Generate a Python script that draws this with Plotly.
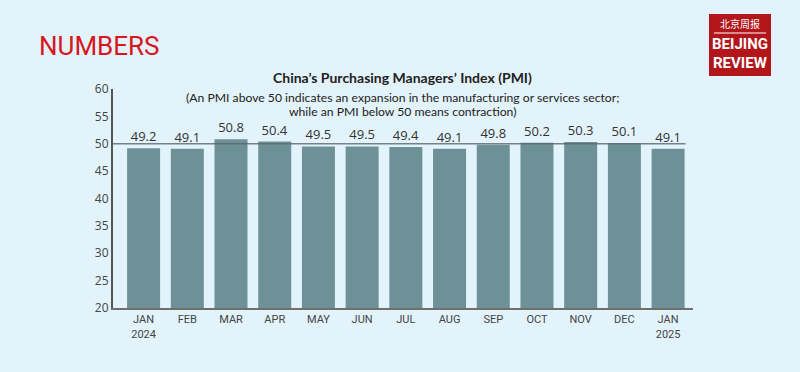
import plotly.graph_objects as go

months = ["JAN<br>2024", "FEB", "MAR", "APR", "MAY", "JUN", "JUL", "AUG", "SEP", "OCT", "NOV", "DEC", "JAN<br>2025"]
pmi = [49.2, 49.1, 50.8, 50.4, 49.5, 49.5, 49.4, 49.1, 49.8, 50.2, 50.3, 50.1, 49.1]
y_ticks = [20, 25, 30, 35, 40, 45, 50, 55, 60]
threshold = 50

W, H = 800, 372
L, R, T, B = 113, 107, 89, 64
BG = "#e2f3fb"

fig = go.Figure()
fig.add_trace(go.Bar(
    x=list(range(len(months))), y=pmi,
    marker=dict(color="#6d9196", line=dict(width=0)),
    text=[f"{v:.1f}" for v in pmi], textposition="outside",
    textfont=dict(size=13, color="#333333", family="Open Sans"),
    cliponaxis=False, width=0.755, hoverinfo="skip",
))
fig.add_shape(type="line", xref="x", yref="y", x0=-0.7, x1=12.4, y0=threshold, y1=threshold,
              line=dict(color="rgba(90,100,105,0.8)", width=1.3), layer="above")

fig.update_layout(
    width=W, height=H, paper_bgcolor=BG, plot_bgcolor=BG,
    margin=dict(l=L, r=R, t=T, b=B), showlegend=False,
    font=dict(family="Open Sans", color="#333333"),
    xaxis=dict(range=[-0.7, 12.57], tickmode="array", tickvals=list(range(len(months))),
               ticktext=months, showgrid=False, zeroline=False, showline=True,
               linecolor="#6f6f6f", linewidth=2, ticks="", tickfont=dict(size=11, family="Roboto", color="#444")),
    yaxis=dict(range=[20, 60], tickvals=y_ticks, showgrid=False, zeroline=False, showline=True,
               linecolor="#555555", linewidth=2, ticks="", tickfont=dict(size=12, color="#444")),
)

px_w = W - L - R
px_h = H - T - B
def ppx(x): return (x - L) / px_w
def ppy(y): return (H - B - y) / px_h

def note(x, y, text, font, xanchor="center"):
    fig.add_annotation(xref="paper", yref="paper", x=ppx(x), y=ppy(y), showarrow=False,
                       xanchor=xanchor, yanchor="middle", text=text, font=font)

note(37, 46, "NUMBERS", dict(size=26, color="#d7161e", family="Roboto"), xanchor="left")
note(402, 78, "<b>China’s Purchasing Managers’ Index (PMI)</b>", dict(size=14, color="#222", family="Lato"))
note(402, 97, "(An PMI above 50 indicates an expansion in the manufacturing or services sector;",
     dict(size=12.2, color="#222", family="Lato"))
note(402, 111, "while an PMI below 50 means contraction)", dict(size=12.2, color="#222", family="Lato"))

# logo
fig.add_shape(type="rect", xref="paper", yref="paper", x0=ppx(709), x1=ppx(771), y0=ppy(76), y1=ppy(14),
              fillcolor="#b2161a", line=dict(color="#b2161a", width=0))
fig.add_shape(type="line", xref="paper", yref="paper", x0=ppx(714), x1=ppx(766), y0=ppy(33), y1=ppy(33),
              line=dict(color="white", width=1))
note(740, 23.5, "北京周报", dict(size=10, color="white", family="Noto Sans CJK SC"))
note(740, 44, "<b>BEIJING</b>", dict(size=15, color="white", family="Roboto"))
note(740, 63, "<b>REVIEW</b>", dict(size=15, color="white", family="Roboto"))

fig.write_html("out.html", config={"displayModeBar": False},
               post_script="document.body.style.margin='0';document.body.style.background='%s';" % BG)
